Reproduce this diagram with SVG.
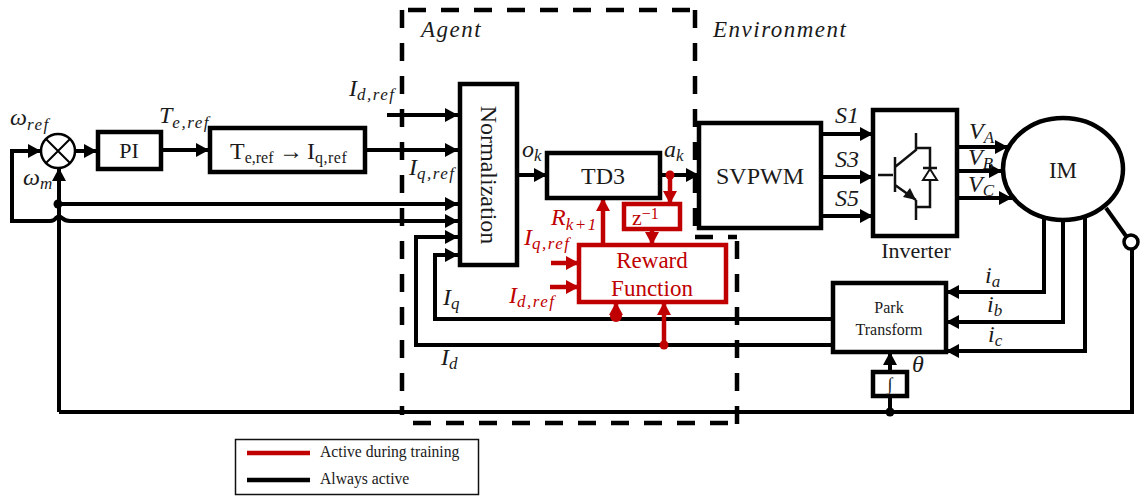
<svg xmlns="http://www.w3.org/2000/svg" width="1144" height="497" viewBox="0 0 1144 497">
<style>
text{font-family:"Liberation Serif","Times New Roman",serif;fill:#1a1a1a}
.box{fill:#fff;stroke:#000;stroke-width:4.5}
.rbox{fill:#fff;stroke:#c00000;stroke-width:4.5}
.k{fill:none;stroke:#000;stroke-width:4}
.r{fill:none;stroke:#c00000;stroke-width:4.5}
.ka{marker-end:url(#ah)}
.ra{marker-end:url(#rh)}
.dash{fill:none;stroke:#000;stroke-width:4.5;stroke-dasharray:18 15}
.m{font-style:italic;font-size:24px}
.red,.red tspan{fill:#c00000}
.s{font-size:17px;letter-spacing:1.5px}
.env{font-style:italic;font-size:23px;letter-spacing:1.5px}
.l{font-size:22px;text-anchor:middle}
.rl{font-size:23px;text-anchor:middle;fill:#c00000}
.thin{fill:none;stroke:#111;stroke-width:2.500}
</style>
<defs>
<marker id="ah" markerUnits="userSpaceOnUse" markerWidth="15" markerHeight="15" refX="13" refY="7" orient="auto"><path d="M0 0L13 7L0 14z" fill="#000"/></marker>
<marker id="rh" markerUnits="userSpaceOnUse" markerWidth="15" markerHeight="15" refX="13" refY="7" orient="auto"><path d="M0 0L13 7L0 14z" fill="#c00000"/></marker>
</defs>
<rect width="1144" height="497" fill="#fff"/>
<g id="agent-boundary">
<path class="dash" d="M402 10V415"/>
<path class="dash" d="M408 10H695"/>
<path class="dash" d="M695 10V228"/>
<path class="dash" d="M695 237H737"/>
<path class="dash" d="M737 241V425"/>
<path class="dash" d="M413 423H735"/>
</g>
<g id="connectors">
<path class="k ka" d="M13 151H41"/>
<path class="k" d="M41 151H12V221H50Q54 221 56 218Q59 215 62 218Q65 221 70 221"/>
<path class="k ka" d="M70 221H458"/>
<path class="k ka" d="M59 412V168"/>
<path class="k ka" d="M59 204H458"/>
<path class="k ka" d="M75 151H97"/>
<path class="k ka" d="M161 150H209"/>
<path class="k ka" d="M365 150H458"/>
<path class="k ka" d="M387 115H458"/>
<path class="k ka" d="M833 319H435V255H458"/>
<path class="k ka" d="M833 345H416V237H458"/>
<path class="k ka" d="M517 175H547"/>
<path class="k ka" d="M660 175H699"/>
<path class="k ka" d="M821 134H873"/>
<path class="k ka" d="M821 177H873"/>
<path class="k ka" d="M821 216H873"/>
<path class="k ka" d="M957 147H1008"/>
<path class="k ka" d="M957 171H1002"/>
<path class="k ka" d="M957 198H1012"/>
<path class="k ka" d="M1044 218V292H946"/>
<path class="k ka" d="M1063 220V322H946"/>
<path class="k ka" d="M1085 218V351H946"/>
<path class="k ka" d="M890 412V352"/>
<path class="k" d="M59 412H1132V250"/>
<path class="k" d="M1106 208L1126 236"/>
<circle cx="58" cy="204" r="4.5"/>
<circle cx="890" cy="412" r="4.5"/>
<path class="r ra" d="M670 175V204"/>
<circle cx="670" cy="175" r="4.5" fill="#c00000"/>
<path class="r ra" d="M603 245V198"/>
<path class="r ra" d="M652 229V245"/>
<path class="r ra" d="M551 263H579"/>
<path class="r ra" d="M550 287H579"/>
<path class="r ra" d="M616 318V302"/>
<circle cx="616" cy="316" r="6" fill="#c00000"/>
<path class="r ra" d="M664 345V302"/>
<circle cx="664" cy="345" r="4.5" fill="#c00000"/>
</g>
<g id="sum">
<circle cx="58" cy="151" r="17" fill="#fff" stroke="#000" stroke-width="2.500"/>
<path d="M46 139L70 163M70 139L46 163" fill="none" stroke="#000" stroke-width="2"/>
</g>
<g id="pi"><rect class="box" x="98" y="132" width="63" height="37"/><text class="l" x="129" y="158">PI</text></g>
<g id="torque-map"><rect class="box" x="210" y="128" width="155" height="44"/>
<text x="230" y="159" font-size="24">T<tspan font-size="16" dy="4">e,ref</tspan><tspan x="279" dy="-4">→</tspan><tspan x="307">I</tspan><tspan font-size="16" dy="4" letter-spacing="0.500">q,ref</tspan></text></g>
<g id="normalization"><rect class="box" x="460" y="84" width="57" height="181"/>
<text class="l" transform="translate(481 175) rotate(90)" style="font-size:24px">Normalization</text></g>
<g id="td3"><rect class="box" x="547" y="153" width="113" height="45"/><text class="l" x="603" y="184" style="font-size:24px">TD3</text></g>
<g id="delay"><rect class="rbox" x="624" y="204" width="56" height="25"/>
<text class="red" x="632" y="225" font-size="22">z<tspan font-size="16" dy="-6">−1</tspan></text></g>
<g id="reward"><rect class="rbox" x="579" y="245" width="147" height="57"/>
<text class="rl" x="652" y="268">Reward</text><text class="rl" x="652" y="296">Function</text></g>
<g id="svpwm"><rect class="box" x="699" y="123" width="122" height="105"/><text class="l" x="760" y="184" style="font-size:24px">SVPWM</text></g>
<g id="inverter"><rect class="box" x="873" y="110" width="84" height="126"/>
<path class="thin" d="M878 175H893M895 157V192M895 167L916 150V133M916 148H930V207H916M916 200V220M923 168H937M895 185L916 200"/>
<path d="M903 197L916 200L910 188z" fill="#111"/>
<path d="M923 180H937L930 169z" fill="#fff" stroke="#111" stroke-width="2"/>
<text class="l" x="916" y="258">Inverter</text></g>
<g id="motor"><ellipse class="box" cx="1063" cy="169" rx="60" ry="51"/><text class="l" x="1063" y="178" style="font-size:23px">IM</text></g>
<g id="position-switch"><circle cx="1131" cy="242" r="7" fill="#fff" stroke="#000" stroke-width="3.500"/></g>
<g id="park"><rect class="box" x="833" y="283" width="113" height="69"/>
<text class="l" x="889" y="313" style="font-size:16px">Park</text><text class="l" x="889" y="335" style="font-size:16px">Transform</text></g>
<g id="integrator"><rect class="box" x="873" y="372" width="34" height="24"/><text x="890" y="390" font-size="18" text-anchor="middle">∫</text></g>
<g id="labels">
<text class="env" x="421" y="37">Agent</text>
<text class="env" x="713" y="37">Environment</text>
<text class="m" x="10" y="125">ω<tspan class="s" dy="5">ref</tspan></text>
<text class="m" x="23" y="185">ω<tspan class="s" dy="4">m</tspan></text>
<text class="m" x="159" y="123">T<tspan class="s" dy="5">e,ref</tspan></text>
<text class="m" x="349" y="96">I<tspan class="s" dy="4">d,ref</tspan></text>
<text class="m" x="409" y="175">I<tspan class="s" dy="4">q,ref</tspan></text>
<text class="m" x="522" y="157">o<tspan class="s" dy="4">k</tspan></text>
<text class="m" x="664" y="157">a<tspan class="s" dy="4">k</tspan></text>
<text class="m red" x="551" y="225">R<tspan class="s" dy="5">k+1</tspan></text>
<text class="m red" x="524" y="245">I<tspan class="s" dy="4">q,ref</tspan></text>
<text class="m red" x="509" y="303">I<tspan class="s" dy="4">d,ref</tspan></text>
<text class="m" x="443" y="305">I<tspan class="s" dy="4">q</tspan></text>
<text class="m" x="441" y="365">I<tspan class="s" dy="4">d</tspan></text>
<text class="m" x="835" y="123">S1</text>
<text class="m" x="835" y="167">S3</text>
<text class="m" x="835" y="206">S5</text>
<text class="m" x="969" y="139">V<tspan class="s" dy="4">A</tspan></text>
<text class="m" x="968" y="165">V<tspan class="s" dy="4">B</tspan></text>
<text class="m" x="968" y="192">V<tspan class="s" dy="4">C</tspan></text>
<text class="m" x="985" y="283">i<tspan class="s" dy="4">a</tspan></text>
<text class="m" x="987" y="312">i<tspan class="s" dy="4">b</tspan></text>
<text class="m" x="988" y="342">i<tspan class="s" dy="4">c</tspan></text>
<text class="m" x="912" y="372">θ</text>
</g>
<g id="legend"><rect x="235.500" y="439.500" width="243" height="55" fill="#fff" stroke="#111" stroke-width="1.500"/>
<path d="M247 453H310" stroke="#c00000" stroke-width="4.500"/><path d="M247 480H310" stroke="#000" stroke-width="4.500"/>
<text x="320" y="457" font-size="15.700">Active during training</text>
<text x="320" y="484" font-size="15.700">Always active</text></g>
</svg>
